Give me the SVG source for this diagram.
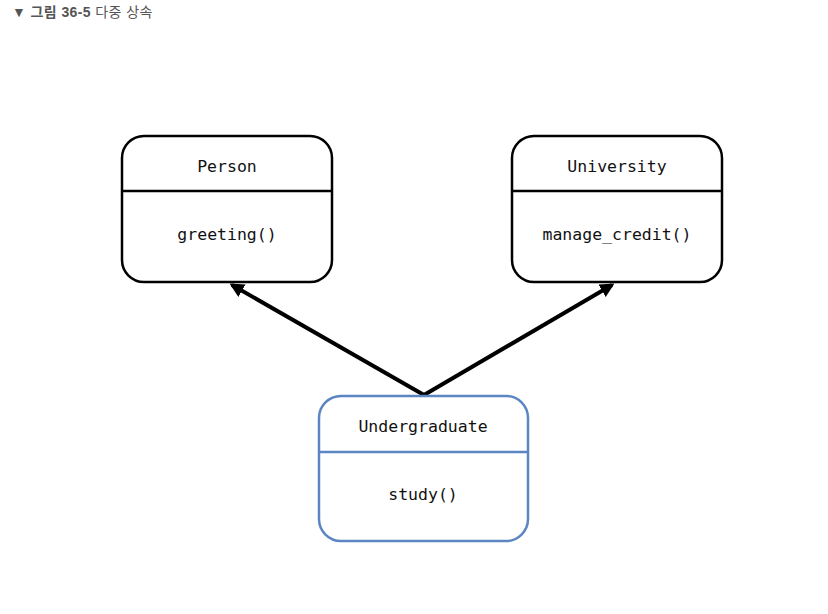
<svg xmlns="http://www.w3.org/2000/svg" width="828" height="614" viewBox="0 0 828 614">
<defs>
<style>
.box{fill:#fff;stroke:#000;stroke-width:2.5}
.blue{stroke:#5b86c3}
.div{stroke:#000;stroke-width:2.5}
.divb{stroke:#5b86c3;stroke-width:2.5}
.lbl{font-family:"DejaVu Sans Mono","Liberation Mono",monospace;font-size:16.5px;fill:#111;text-anchor:middle}
.title{font-family:"Liberation Sans","Noto Sans CJK KR",sans-serif;font-size:14px;fill:#555}
.edge{stroke:#000;stroke-width:4;fill:none}
</style>
<marker id="arr" viewBox="0 0 10 10" refX="8" refY="5" markerWidth="3.6" markerHeight="3.6" orient="auto" markerUnits="strokeWidth">
<path d="M0,0 L10,5 L0,10 Z" fill="#000"/>
</marker>
</defs>
<rect width="828" height="614" fill="#fff"/>
<text class="title" x="12" y="17" letter-spacing="0.4">▼ <tspan font-weight="bold">그림 36-5</tspan> 다중 상속</text>
<g id="connectors">
<line class="edge" x1="424" y1="395" x2="232" y2="285" marker-end="url(#arr)"/>
<line class="edge" x1="424" y1="395" x2="612" y2="285" marker-end="url(#arr)"/>
</g>
<g id="person">
<rect class="box" x="122" y="136" width="210" height="146" rx="22"/>
<line class="div" x1="122" y1="191" x2="332" y2="191"/>
<text class="lbl" x="227" y="172">Person</text>
<text class="lbl" x="227" y="240">greeting()</text>
</g>
<g id="university">
<rect class="box" x="512" y="136" width="210" height="146" rx="22"/>
<line class="div" x1="512" y1="191" x2="722" y2="191"/>
<text class="lbl" x="617" y="172">University</text>
<text class="lbl" x="617" y="240">manage_credit()</text>
</g>
<g id="undergraduate">
<rect class="box blue" x="319" y="396" width="209" height="145" rx="22"/>
<line class="divb" x1="319" y1="452" x2="528" y2="452"/>
<text class="lbl" x="423" y="432">Undergraduate</text>
<text class="lbl" x="423" y="500">study()</text>
</g>
</svg>
